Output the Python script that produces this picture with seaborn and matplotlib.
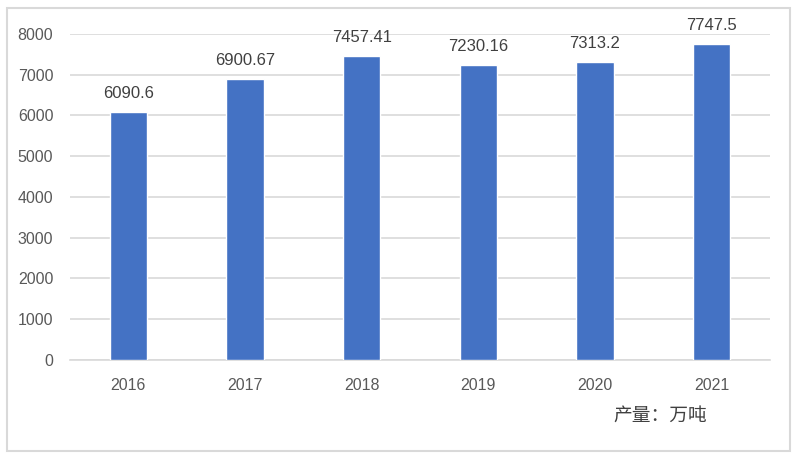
import matplotlib
matplotlib.use('Agg')
import matplotlib.pyplot as plt
import seaborn as sns
import pandas as pd
from matplotlib.patches import Rectangle

years = ['2016', '2017', '2018', '2019', '2020', '2021']
output = [6090.6, 6900.67, 7457.41, 7230.16, 7313.2, 7747.5]
value_labels = ['6090.6', '6900.67', '7457.41', '7230.16', '7313.2', '7747.5']
yticks = [0, 1000, 2000, 3000, 4000, 5000, 6000, 7000, 8000]

sns.set_style('white')
plt.rcParams['font.family'] = ['Liberation Sans', 'Noto Sans CJK SC', 'DejaVu Sans']

df = pd.DataFrame({'year': years, 'output': output})

fig = plt.figure(figsize=(8, 4.59), dpi=100)
ax = fig.add_axes([0.0875, 0.2157, 0.875, 0.7103])

sns.barplot(x='year', y='output', data=df, color='#4472C4', width=0.32,
            saturation=1, ax=ax, zorder=3)

for i, (v, lab) in enumerate(zip(output, value_labels)):
    ax.text(i, v + 270, lab, ha='center', va='bottom', fontsize=12, color='#404040')

ax.set_ylim(0, 8000)
ax.set_xlim(-0.5, 5.5)
ax.set_yticks(yticks)
ax.set_yticklabels([str(t) for t in yticks])
ax.yaxis.grid(True, color='#D9D9D9', linewidth=1.2, zorder=0)
ax.set_axisbelow(True)
for s in ['top', 'right', 'left']:
    ax.spines[s].set_visible(False)
ax.spines['bottom'].set_color('#D9D9D9')
ax.spines['bottom'].set_linewidth(1.2)
ax.tick_params(axis='both', length=0, labelsize=11.5, labelcolor='#595959')
ax.tick_params(axis='y', pad=12)
ax.tick_params(axis='x', pad=13)
ax.set_xlabel('')
ax.set_ylabel('')

fig.text(0.767, 0.083, '产量：万吨', fontsize=13.5, color='#404040',
         family=['Noto Sans CJK SC', 'DejaVu Sans'])

fig.patches.append(Rectangle((0.009, 0.017), 0.979, 0.965, transform=fig.transFigure,
                             fill=False, edgecolor='#D9D9D9', linewidth=1.5))

fig.savefig('out.png', dpi=100)
